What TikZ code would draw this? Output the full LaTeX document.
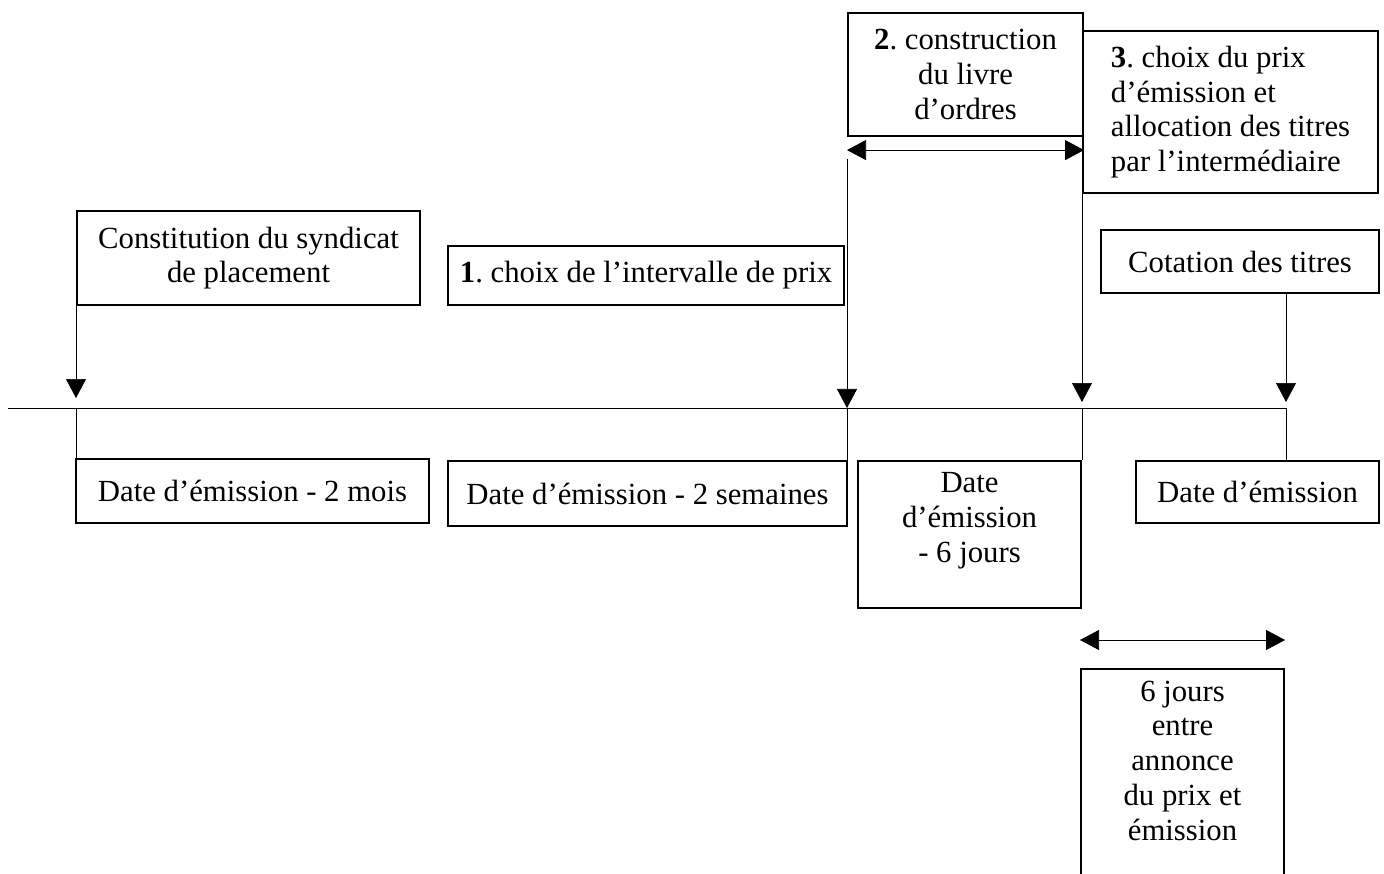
\documentclass[tikz,border=0pt]{standalone}
\usepackage{fontspec}
\setmainfont{Liberation Serif}
\frenchspacing
\usetikzlibrary{arrows.meta, positioning}
\tikzset{
	x=0.02cm, y=-0.02cm,
	>={Triangle[width=0.4cm, length=0.38cm]},
	every node/.style={font=\fontsize{17.5}{19.8}\selectfont},
	box/.style={draw, line width=1.2pt, anchor=north west, inner sep=0pt, align=center},
	toptext/.style={anchor=north, align=center, inner sep=7pt},
	line width=1.2pt,
	baseline}

\begin{document}
\begin{tikzpicture}
		\useasboundingbox (0,0) rectangle (1384,874);
		\clip (0,0) rectangle (1384,874);
		
		% boxes above the time line
		\node[box, minimum width=6.86cm, minimum height=1.88cm] (syndicat) at (76,210) {Constitution du syndicat\\de placement};
		\node[box, minimum width=7.92cm, minimum height=1.18cm] (intervalle) at (447,245) {\textbf{1}. choix de l’intervalle de prix};
		\node[box, minimum width=4.70cm, minimum height=2.46cm] (livre) at (847,12) {\textbf{2}. construction\\du livre\\d’ordres};
		\node[box, align=left, minimum width=5.90cm, minimum height=3.24cm] (allocation) at (1082,30) {\textbf{3}. choix du prix\\d’émission et\\allocation des titres\\par l’intermédiaire};
		\node[box, minimum width=5.56cm, minimum height=1.26cm] (cotation) at (1100,229) {Cotation des titres};
		
		% boxes below the time line
		\node[box, minimum width=7.06cm, minimum height=1.28cm] (moins2m) at (75,458) {Date d’émission - 2 mois};
		\node[box, minimum width=7.98cm, minimum height=1.30cm] (moins2s) at (447,460) {Date d’émission - 2 semaines};
		\node[box, minimum width=4.46cm, minimum height=2.94cm, label={[toptext]north:{Date\\d’émission\\- 6 jours}}] (moins6j) at (857,460) {};
		\node[box, minimum width=4.86cm, minimum height=1.24cm] (emission) at (1135,460) {Date d’émission};
		\node[box, minimum width=4.06cm, minimum height=4.40cm, label={[toptext]north:{6 jours\\entre\\annonce\\du prix et\\émission}}] (ecart) at (1080,668) {};
		
		% time line
		\coordinate (t0) at (8,408);
		\coordinate (t1) at (syndicat.south west |- t0);
		\coordinate (t2) at (livre.south west |- t0);
		\coordinate (t3) at (allocation.south west |- t0);
		\coordinate (t4) at (1286,408);
		
		\draw
		(t0) -- (t4) -- (t4 |- emission.north)
		(t1) -- (t1 |- moins2m.north)
		(t2) -- (t2 |- moins2s.north)
		(t3) -- (t3 |- moins6j.north)
		;
		
		\draw[->] (syndicat.south west) -- ([yshift=0.2cm]t1);
		\draw[->] ([yshift=-0.44cm]livre.south west) -- (t2);
		\draw[->] (allocation.south west) -- ([yshift=0.12cm]t3);
		\draw[->] (cotation.south -| t4) -- ([yshift=0.12cm]t4);
		
		\draw[<->] ([yshift=-0.26cm]livre.south west) -- ([yshift=-0.26cm]livre.south east);
		\draw[<->] ([yshift=0.56cm]ecart.north west) -- ([yshift=0.56cm]ecart.north east);
	\end{tikzpicture}
\end{document}
